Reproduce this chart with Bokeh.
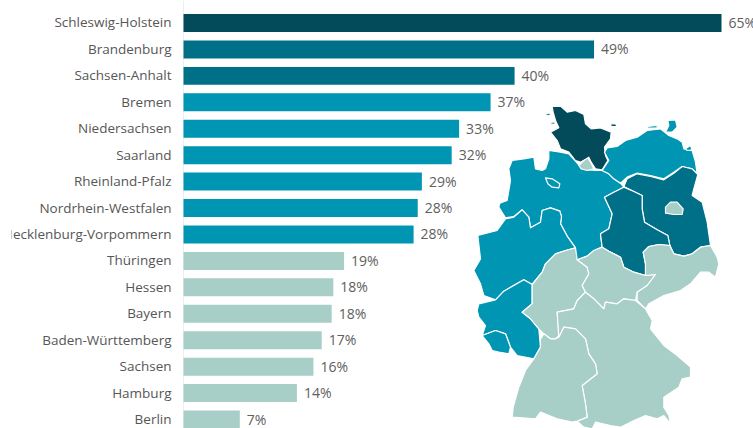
from bokeh.plotting import figure
from bokeh.models import Range1d, ColumnDataSource, Span
from bokeh.core.properties import value
from bokeh.embed import file_html
from bokeh.resources import INLINE

states = ["Schleswig-Holstein", "Brandenburg", "Sachsen-Anhalt", "Bremen", "Niedersachsen", "Saarland",
          "Rheinland-Pfalz", "Nordrhein-Westfalen", "Mecklenburg-Vorpommern", "Thüringen", "Hessen", "Bayern",
          "Baden-Württemberg", "Sachsen", "Hamburg", "Berlin"]
values = [65.0, 49.6, 40.0, 37.1, 33.3, 32.4, 28.8, 28.3, 27.8, 19.4, 18.1, 17.9, 16.7, 15.7, 13.7, 6.8]
labels = ["65%", "49%", "40%", "37%", "33%", "32%", "29%", "28%", "28%", "19%", "18%", "18%", "17%", "16%", "14%", "7%"]
DARK, MID, TEAL, LIGHT = "#034b5b", "#006f88", "#0095b3", "#a7cec7"
colors = [DARK, MID, MID, TEAL, TEAL, TEAL, TEAL, TEAL, TEAL, LIGHT, LIGHT, LIGHT, LIGHT, LIGHT, LIGHT, LIGHT]

# Outlines, in map units (north-up, y growing southwards)
map_shapes = {
 "Niedersachsen": [(265,180),(300,185),(325,190),(345,212),(360,230),(385,238),(410,240),(425,240),(445,250),(460,265),(480,278),(490,290),(460,305),(432,320),(455,370),(445,415),(420,430),(425,470),(400,480),(380,497),(350,508),(335,497),(345,472),(322,440),(300,400),(303,378),(298,362),(270,352),(245,360),(240,395),(210,412),(205,380),(185,358),(160,378),(135,382),(115,350),(118,338),(140,330),(150,270),(145,235),(155,210),(190,205),(220,200),(225,235),(245,240),(255,235),(265,205)],
 "Bremen": [(255,262),(275,265),(298,280),(295,292),(275,290),(262,280)],
 "Hamburg": [(355,225),(380,200),(392,218),(400,235),(380,240),(362,235)],
 "Schleswig-Holstein": [(275,48),(300,47),(320,65),(345,60),(370,72),(375,100),(392,115),(420,112),(452,125),(450,145),(432,170),(435,195),(442,210),(425,238),(405,235),(392,215),(385,200),(360,215),(345,210),(325,185),(300,175),(290,150),(270,125),(295,112),(285,90),(278,65)],
 "Mecklenburg-Vorpommern": [(440,172),(470,168),(495,150),(530,140),(560,120),(600,115),(625,135),(650,145),(665,155),(670,175),(695,180),(705,215),(710,250),(695,235),(665,228),(640,245),(610,265),(570,255),(530,248),(500,260),(480,278),(460,265),(445,250),(425,240),(445,210),(432,185)],
 "Brandenburg": [(490,288),(500,265),(530,250),(570,258),(610,268),(640,248),(665,228),(695,235),(712,252),(700,295),(695,315),(725,335),(740,395),(745,430),(750,465),(720,470),(695,490),(670,497),(640,490),(628,465),(622,435),(590,418),(552,395),(545,355),(545,315),(520,303)],
 "Berlin": [(615,350),(630,335),(650,335),(668,355),(665,372),(640,372),(615,368)],
 "Sachsen-Anhalt": [(490,290),(520,303),(545,315),(545,355),(552,395),(590,418),(622,435),(628,465),(595,462),(565,468),(548,485),(555,520),(555,555),(520,545),(490,530),(480,500),(445,482),(425,470),(420,430),(445,415),(455,370),(432,320),(460,305)],
 "Nordrhein-Westfalen": [(52,435),(110,420),(135,385),(160,380),(185,358),(205,380),(210,412),(240,395),(245,360),(270,352),(298,362),(303,378),(300,400),(322,440),(345,472),(315,480),(285,490),(255,520),(245,545),(215,582),(190,568),(130,602),(105,628),(70,615),(60,580),(40,540),(60,505)],
 "Rheinland-Pfalz": [(55,640),(105,628),(130,602),(190,568),(215,582),(215,640),(185,665),(210,685),(235,715),(240,770),(220,805),(170,795),(150,770),(135,730),(105,720),(65,735),(75,705),(55,680),(50,660)],
 "Saarland": [(65,735),(105,720),(135,730),(150,770),(145,790),(115,785),(95,780),(85,760)],
 "Hessen": [(345,472),(350,508),(380,530),(385,550),(365,585),(375,605),(350,630),(340,655),(290,665),(295,735),(285,745),(270,745),(250,730),(235,715),(210,685),(185,665),(215,640),(215,582),(245,545),(255,520),(285,490),(315,480)],
 "Thüringen": [(350,508),(380,497),(400,480),(425,470),(445,482),(480,500),(490,530),(520,545),(555,555),(585,552),(560,585),(530,605),(525,630),(490,625),(470,640),(435,635),(430,655),(400,625),(375,605),(365,585),(385,550),(380,530)],
 "Sachsen": [(548,485),(565,468),(595,462),(628,465),(640,490),(670,497),(695,490),(720,470),(750,465),(770,500),(775,520),(765,560),(745,545),(720,545),(690,580),(660,600),(610,615),(565,640),(555,655),(530,630),(530,605),(560,585),(585,552),(555,555),(555,520)],
 "Bayern": [(375,605),(400,625),(430,655),(435,635),(470,640),(490,625),(525,630),(555,655),(575,690),(570,715),(610,765),(650,795),(690,830),(690,860),(665,865),(655,890),(610,920),(610,950),(625,975),(630,1000),(610,975),(590,985),(555,975),(520,990),(480,1010),(450,1005),(405,995),(395,1015),(370,1010),(350,992),(380,980),(375,940),(365,885),(410,850),(405,820),(385,790),(375,745),(345,715),(310,710),(295,740),(290,665),(340,655),(350,630)],
 "Baden-Württemberg": [(295,740),(310,710),(345,715),(375,745),(385,790),(405,820),(410,850),(365,885),(375,940),(380,980),(350,992),(335,995),(290,985),(240,965),(225,985),(155,980),(158,950),(175,890),(195,840),(220,805),(240,770),(240,745),(250,730),(270,745),(285,745)],
}
map_islands = [
 ("Schleswig-Holstein", [(450,100),(465,100),(470,108),(452,108)]),
 ("Schleswig-Holstein", [(255,70),(268,67),(270,75),(257,74)]),
 ("Schleswig-Holstein", [(270,96),(282,94),(285,100),(272,101)]),
 ("Mecklenburg-Vorpommern", [(615,125),(625,105),(622,90),(645,88),(650,110),(635,125)]),
 ("Mecklenburg-Vorpommern", [(675,175),(690,165),(695,178),(680,180)]),
 ("Mecklenburg-Vorpommern", [(560,108),(590,105),(590,112),(562,113)]),
]

PX_PER_PCT = 8.277
color_of = dict(zip(states, colors))
idx = list(range(len(states)))

p = figure(width=753, height=428, output_backend="svg", toolbar_location=None,
           x_axis_type=None, y_axis_type=None,
           x_range=Range1d((11 - 183) / PX_PER_PCT, (753 - 183) / PX_PER_PCT),
           y_range=Range1d(15.34, -0.851),
           min_border_left=11, min_border_right=0, min_border_top=0, min_border_bottom=0)
p.outline_line_color = None
p.background_fill_color = "white"
p.extra_x_ranges["map"] = Range1d(3 * (11 - 460), 3 * (753 - 460))
p.extra_y_ranges["map"] = Range1d(3 * (428 - 90), 3 * (0 - 90))

p.add_layout(Span(location=0, dimension="height", line_color="#eaf0f0", line_width=1, level="underlay"))

src = ColumnDataSource(dict(y=idx, v=values, c=colors, s=states, l=labels, z=[0] * len(idx)))
p.hbar(y="y", left="z", right="v", height=0.68, fill_color="c", line_color=None, source=src)
p.text(x="z", y="y", text="s", source=src, text_align="right", text_baseline="middle", x_offset=-12, y_offset=-0.5,
       text_font=value("Open Sans"), text_font_size="13.5px", text_color="#565656")
p.text(x="v", y="y", text="l", source=src, text_align="left", text_baseline="middle", x_offset=7, y_offset=-0.5,
       text_font=value("Open Sans"), text_font_size="14px", text_color="#606060")

names = list(map_shapes)
xs = [[pt[0] for pt in map_shapes[n]] for n in names]
ys = [[pt[1] for pt in map_shapes[n]] for n in names]
fills = [color_of[n] for n in names]
for n, pts in map_islands:
    xs.append([pt[0] for pt in pts])
    ys.append([pt[1] for pt in pts])
    fills.append(color_of[n])
p.patches(xs, ys, fill_color=fills, line_color="white", line_width=1.2, line_join="round",
          x_range_name="map", y_range_name="map")

open("out.html", "w").write(file_html(p, INLINE))
